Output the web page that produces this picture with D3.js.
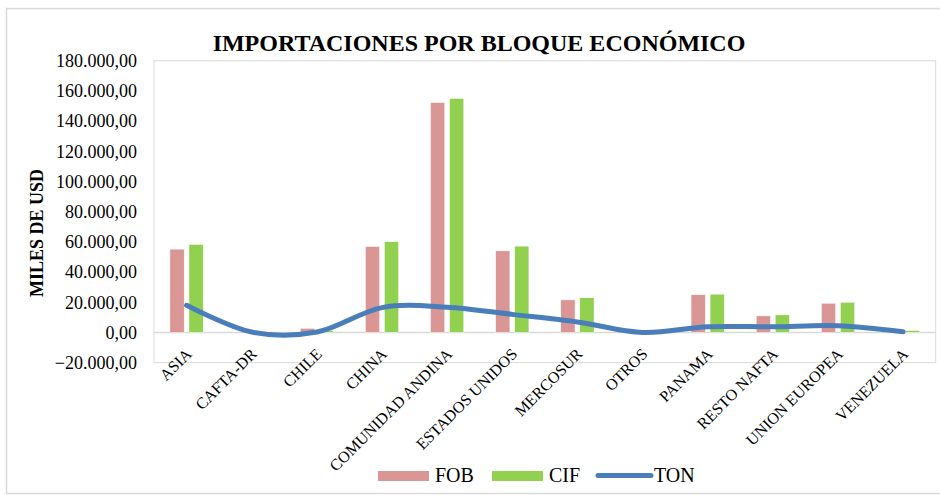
<!DOCTYPE html>
<html>
<head>
<meta charset="utf-8">
<script src="https://cdn.jsdelivr.net/npm/d3@7"></script>
<style>
  body { margin: 0; background: #fff; }
  text { font-family: "Liberation Serif", "Times New Roman", serif; fill: #000; }
</style>
</head>
<body>
<div id="chart"></div>
<script>
// valores
var categories = ["ASIA", "CAFTA-DR", "CHILE", "CHINA", "COMUNIDAD ANDINA", "ESTADOS UNIDOS",
                  "MERCOSUR", "OTROS", "PANAMA", "RESTO NAFTA", "UNION EUROPEA", "VENEZUELA"];
var fob = [55200, 0, 2800, 57000, 152300, 54100, 21600, 0, 25000, 11000, 19400, 1000];
var cif = [58300, 0, 1200, 60100, 155000, 57200, 23000, 0, 25400, 11700, 20000, 1300];
var ton = [18000, 300, 300, 16500, 16800, 12000, 7000, 0, 3800, 3800, 4500, 500];
var yTicks = [-20000, 0, 20000, 40000, 60000, 80000, 100000, 120000, 140000, 160000, 180000];
var seriesNames = ["FOB", "CIF", "TON"];

var width = 940, height = 495;
var plot = {left: 154, right: 935.7, top: 60.7, bottom: 362.7};
var colors = {FOB: "#d99694", CIF: "#92d050", TON: "#4a7ebb"};
var serif = "'Liberation Serif', 'Times New Roman', serif";

var locale = d3.formatLocale({decimal: ",", thousands: ".", grouping: [3], currency: ["$", ""]});
var fmt = locale.format(",.2f");

var svg = d3.select("#chart").append("svg")
    .attr("width", width)
    .attr("height", height);

// marco exterior
svg.append("rect")
    .attr("x", 6.5).attr("y", 8.5)
    .attr("width", 945).attr("height", 485)
    .attr("fill", "none")
    .attr("stroke", "#d9d9d9")
    .attr("stroke-width", 1.5);

var x0 = d3.scaleBand()
    .domain(categories)
    .range([plot.left, plot.right])
    .paddingInner(0.489)
    .paddingOuter(0.2445);

var x1 = d3.scaleBand()
    .domain(["FOB", "CIF"])
    .range([0, x0.bandwidth()])
    .paddingInner(0.25);

var y = d3.scaleLinear()
    .domain([-20000, 180000])
    .range([plot.bottom, plot.top]);

// area del grafico
svg.append("rect")
    .attr("x", plot.left).attr("y", plot.top)
    .attr("width", plot.right - plot.left).attr("height", plot.bottom - plot.top)
    .attr("fill", "none")
    .attr("stroke", "#d9d9d9")
    .attr("stroke-width", 1);

// titulo
svg.append("text")
    .attr("x", 479).attr("y", 51)
    .attr("text-anchor", "middle")
    .style("font-size", "24px")
    .style("font-weight", "bold")
    .text("IMPORTACIONES POR BLOQUE ECONÓMICO");

// eje y
var yAxis = svg.append("g")
    .attr("transform", "translate(" + plot.left + ",0)")
    .call(d3.axisLeft(y).tickValues(yTicks).tickFormat(fmt).tickSize(0).tickPadding(17))
    .attr("font-family", serif)
    .attr("font-size", 18);
yAxis.select(".domain").remove();
yAxis.selectAll("text")
    .style("font-family", serif)
    .style("font-size", "18px")
    .attr("fill", "#000");

svg.append("text")
    .attr("transform", "translate(43,233) rotate(-90)")
    .attr("text-anchor", "middle")
    .style("font-size", "18px")
    .style("font-weight", "bold")
    .text("MILES DE USD");

// linea de cero
svg.append("line")
    .attr("x1", plot.left).attr("x2", plot.right)
    .attr("y1", y(0)).attr("y2", y(0))
    .attr("stroke", "#d9d9d9")
    .attr("stroke-width", 1.5);

// barras
var groups = svg.selectAll(".grupo")
    .data(categories)
    .enter().append("g")
    .attr("class", "grupo")
    .attr("transform", function(d) { return "translate(" + x0(d) + ",0)"; });

groups.selectAll("rect")
    .data(function(d, i) { return [{k: "FOB", v: fob[i]}, {k: "CIF", v: cif[i]}]; })
    .enter().append("rect")
    .attr("x", function(d) { return x1(d.k); })
    .attr("width", x1.bandwidth())
    .attr("y", function(d) { return y(Math.max(0, d.v)); })
    .attr("height", function(d) { return Math.abs(y(d.v) - y(0)); })
    .attr("fill", function(d) { return colors[d.k]; })
    .attr("stroke", "#fff")
    .attr("stroke-width", 0.5);

// linea TON suavizada
var line = d3.line()
    .x(function(d, i) { return x0(categories[i]) + x0.bandwidth() / 2; })
    .y(function(d) { return y(d); })
    .curve(d3.curveCatmullRom.alpha(0));

svg.append("path")
    .datum(ton)
    .attr("d", line)
    .attr("fill", "none")
    .attr("stroke", colors.TON)
    .attr("stroke-width", 5)
    .attr("stroke-linecap", "round");

// etiquetas eje x
svg.selectAll(".xlab")
    .data(categories)
    .enter().append("text")
    .attr("class", "xlab")
    .attr("text-anchor", "end")
    .attr("transform", function(d) {
        return "translate(" + (x0(d) + x0.bandwidth() / 2 + 6) + ",355) rotate(-45)";
    })
    .style("font-size", "16px")
    .text(function(d) { return d; });

// leyenda
var legX = [378, 492, 596];
var leg = svg.selectAll(".leg")
    .data(seriesNames)
    .enter().append("g")
    .attr("class", "leg")
    .attr("transform", function(d, i) { return "translate(" + legX[i] + ",0)"; });

leg.each(function(d) {
    var g = d3.select(this);
    if (d === "TON") {
        g.append("line")
            .attr("x1", 2).attr("x2", 55)
            .attr("y1", 475.5).attr("y2", 475.5)
            .attr("stroke", colors.TON)
            .attr("stroke-width", 5)
            .attr("stroke-linecap", "round");
        g.append("text").attr("x", 58).attr("y", 482)
            .style("font-family", serif).style("font-size", "20px").text(d);
    } else {
        g.append("rect")
            .attr("x", 0).attr("y", 471)
            .attr("width", 51).attr("height", 10)
            .attr("fill", colors[d]);
        g.append("text").attr("x", 57).attr("y", 482)
            .style("font-family", serif).style("font-size", "20px").text(d);
    }
});
</script>
</body>
</html>
